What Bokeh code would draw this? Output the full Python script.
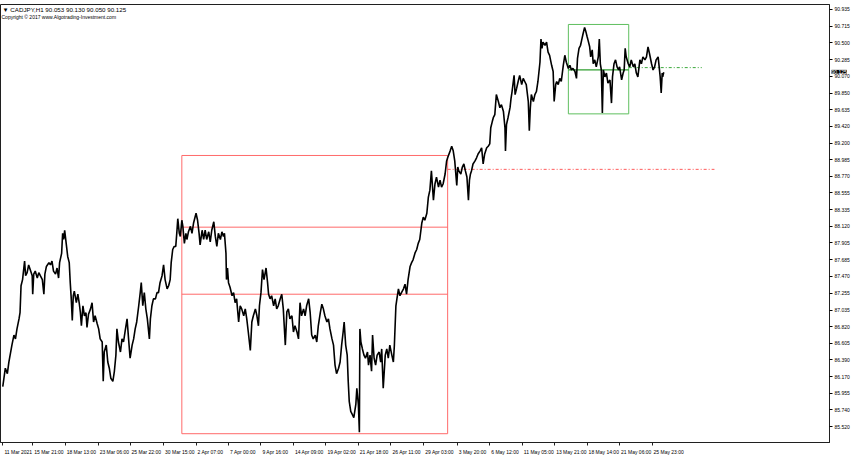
from bokeh.plotting import figure
from bokeh.models import Range1d, FixedTicker, NumeralTickFormatter, Label
from bokeh.embed import file_html
from bokeh.resources import INLINE

# ---- price path (H1 bar index, price) ----
bar_index = [
    0, 5, 9, 12, 18, 22, 25, 28, 32, 34, 36, 39, 43, 45, 48, 51, 55, 58, 59, 61,
    64, 68, 71, 74, 78, 81, 83, 86, 91, 94, 97, 100, 104, 107, 110, 112, 116, 118, 120, 122,
    125, 128, 131, 133, 135, 137, 139, 141, 145, 148, 151, 153, 155, 158, 161, 164, 166, 169, 173, 176,
    179, 182, 186, 189, 192, 196, 198, 200, 204, 207, 210, 213, 217, 220, 223, 225, 228, 232, 235, 238,
    241, 245, 248, 251, 255, 258, 261, 264, 268, 271, 273, 276, 279, 282, 285, 289, 291, 294, 297, 301,
    304, 307, 310, 314, 317, 320, 324, 327, 330, 332, 335, 338, 341, 343, 345, 348, 350, 353, 355, 358,
    361, 363, 366, 370, 373, 376, 381, 384, 387, 389, 393, 396,
    399, 402, 406, 409, 412, 416, 419, 422, 425, 429, 432, 435, 437, 440, 441, 443, 445, 448, 452, 455,
    458, 461, 465, 468, 471, 475, 478, 481, 484, 488, 491, 494, 498, 501, 504, 506, 509, 512, 515, 519,
    522, 524, 527, 530, 534, 537, 540, 543, 547, 550, 553, 557, 560, 563, 566, 570, 573, 576, 580, 583,
    586, 589, 593, 596, 599, 603, 606, 609, 612, 616, 619, 622, 626, 629, 632, 635, 639, 642, 645, 649,
    652, 655, 658, 662, 665, 668, 671, 673, 676, 679, 681, 683, 686, 689, 692, 696, 698, 701, 703, 704,
    706, 709, 712, 715, 719, 721, 724, 727, 729, 732, 735, 738, 742, 745, 747, 750, 754, 757, 760, 763,
    767, 770, 772, 775, 777, 780, 783, 786, 790, 793, 796, 799, 803, 806, 809, 813, 816, 819, 822,
    826, 829, 832, 836, 839, 842, 845, 849, 852, 855, 859, 862, 865, 868, 872, 875, 877, 882, 885, 888,
    891, 895, 897, 899, 903, 906, 909, 912, 915, 918, 920, 922, 924, 927, 931, 934, 937, 941, 944, 947,
    950, 954, 957, 960, 962, 965, 967, 970, 973, 977, 980, 983, 987, 990, 991, 993, 996, 1000, 1002, 1004,
    1008, 1010, 1013, 1016, 1019, 1023, 1026, 1029, 1032, 1036, 1038, 1040, 1042, 1046, 1049, 1052, 1055, 1059, 1061, 1063,
    1065, 1069, 1072, 1075, 1078, 1082, 1085, 1087, 1090, 1092, 1095, 1098, 1101, 1105, 1108, 1111, 1115, 1118, 1121, 1124,
    1128, 1131, 1133, 1136, 1139,
    1141, 1144, 1147, 1149, 1152, 1154, 1157, 1159, 1162, 1164, 1167, 1170, 1174, 1176, 1178, 1180, 1182, 1184, 1187, 1190,
    1193, 1197, 1200, 1202, 1205, 1208, 1211, 1214, 1216, 1220, 1223, 1225, 1227, 1229, 1233, 1236, 1239, 1243, 1246, 1249,
    1252, 1256, 1259, 1262, 1266, 1269, 1272, 1275, 1279, 1282, 1285, 1288, 1292, 1294, 1296, 1298, 1300, 1301, 1303,
]
price = [
    86.04, 86.28, 86.21, 86.36, 86.58, 86.71, 86.66, 86.79, 86.92, 87.00, 87.35, 87.43, 87.67, 87.48, 87.52, 87.62, 87.54, 87.48, 87.24, 87.50,
    87.54, 87.45, 87.52, 87.48, 87.43, 87.24, 87.50, 87.60, 87.65, 87.62, 87.67, 87.54, 87.50, 87.58, 87.45, 87.65, 87.77, 88.03, 87.95, 88.07,
    87.90, 87.73, 87.65, 87.39, 87.18, 86.90, 87.22, 87.28, 87.13, 87.24, 87.11, 87.00, 86.83, 87.09, 86.96, 87.00, 86.81, 86.98, 87.05, 87.13,
    86.88, 86.96, 86.86, 86.79, 86.66, 86.62, 86.11, 86.49, 86.58, 86.36, 86.28, 86.15, 86.11, 86.24, 86.45, 86.79, 86.62, 86.49, 86.66, 86.62,
    86.75, 86.92, 86.66, 86.41, 86.58, 86.66, 86.79, 86.88, 87.09, 87.26, 87.39, 87.09, 87.26, 87.05, 86.92, 86.66, 86.92, 87.09, 87.18, 87.18,
    87.26, 87.26, 87.39, 87.48, 87.62, 87.43, 87.31, 87.35, 87.43, 87.65, 87.82, 87.86, 87.86, 88.03, 88.22, 88.03, 87.99, 88.20, 88.12, 87.90,
    88.03, 87.95, 88.05, 88.12, 88.03, 88.16, 88.29, 88.20, 88.03, 87.88, 88.07, 87.95,
    88.07, 87.95, 88.05, 87.92, 88.07, 88.18, 87.99, 87.86, 88.03, 87.95, 88.05, 87.99, 88.03, 87.77, 87.43, 87.58, 87.39, 87.33, 87.22, 87.26,
    87.13, 87.18, 86.88, 87.09, 87.05, 86.96, 87.05, 86.92, 86.75, 86.51, 86.88, 86.96, 87.05, 86.96, 86.83, 87.09, 87.26, 87.56, 87.43, 87.58,
    87.39, 87.24, 87.18, 87.22, 87.09, 87.18, 87.05, 87.09, 87.18, 87.24, 87.05, 86.58, 87.01, 87.05, 86.92, 86.96, 86.75, 86.83, 86.75, 86.66,
    87.13, 86.96, 87.05, 86.96, 87.09, 87.18, 87.00, 86.71, 86.66, 86.71, 86.62, 86.83, 87.00, 87.11, 87.05, 86.96, 86.88, 86.92, 86.79, 86.66,
    86.58, 86.32, 86.21, 86.28, 86.36, 86.58, 86.75, 86.88, 86.58, 86.45, 86.11, 85.85, 85.72, 85.68, 85.64, 85.81, 86.02, 85.81, 85.45, 86.79,
    86.62, 86.53, 86.45, 86.41, 86.49, 86.32, 86.45, 86.24, 86.71, 86.41, 86.32, 86.45, 86.49, 86.36, 86.53, 86.02, 86.45, 86.53, 86.41, 86.58,
    86.45, 86.36, 86.58, 87.09, 87.18, 87.31, 87.22, 87.26, 87.31, 87.37, 87.24, 87.43, 87.60, 87.65, 87.69, 87.78, 87.82, 87.90, 87.95,
    88.16, 88.24, 88.20, 88.29, 88.50, 88.59, 88.84, 88.46, 88.67, 88.76, 88.63, 88.72, 88.63, 88.67, 88.80, 88.97, 89.01, 89.10, 89.16, 89.10,
    88.97, 88.65, 88.89, 88.84, 88.80, 88.89, 88.93, 88.84, 88.76, 88.46, 88.72, 88.80, 88.84, 88.93, 88.97, 89.01, 89.06, 89.10, 89.14, 88.93,
    89.06, 89.14, 89.16, 89.19, 89.40, 89.48, 89.53, 89.57, 89.83, 89.74, 89.66, 89.70, 89.61, 89.40, 89.10, 89.44, 89.53, 89.66, 89.78, 89.87,
    90.08, 89.83, 89.91, 90.00, 90.08, 89.96, 90.04, 90.00, 89.96, 89.74, 89.36, 89.66, 89.83, 89.74, 89.83, 89.87, 90.00, 90.25, 90.55, 90.43,
    90.51, 90.47, 90.51, 90.38, 90.34, 90.21, 90.13, 89.74, 89.96, 90.00, 89.96, 90.04, 90.00, 90.21, 90.34, 90.25, 90.17, 90.21, 90.15, 90.17,
    90.13, 90.04, 90.30, 90.43, 90.47,
    90.53, 90.62, 90.70, 90.66, 90.58, 90.53, 90.45, 90.32, 90.41, 90.23, 90.28, 90.19, 90.32, 90.55, 90.23, 90.15, 89.59, 90.15, 90.06, 90.11,
    89.98, 90.02, 89.72, 90.06, 90.23, 90.28, 90.19, 90.15, 90.19, 90.02, 90.11, 90.15, 90.43, 90.32, 90.23, 90.19, 90.28, 90.19, 90.23, 90.11,
    90.06, 90.28, 90.23, 90.32, 90.28, 90.32, 90.45, 90.36, 90.23, 90.15, 90.19, 90.28, 90.32, 90.19, 90.06, 89.85, 90.11, 90.06, 90.12,
]

# ---- axes ----
time_ticks = [0, 59, 123, 188, 251, 317, 381, 445, 509, 573, 637, 701, 765, 830, 896, 960, 1024, 1088, 1152, 1216, 1280]
time_labels = ["11 Mar 2021", "15 Mar 21:00", "18 Mar 13:00", "23 Mar 06:00", "25 Mar 22:00", "30 Mar 15:00",
               "2 Apr 07:00", "7 Apr 00:00", "9 Apr 16:00", "14 Apr 09:00", "19 Apr 02:00", "21 Apr 18:00",
               "26 Apr 11:00", "29 Apr 03:00", "3 May 20:00", "6 May 12:00", "11 May 05:00", "13 May 21:00",
               "18 May 14:00", "21 May 06:00", "25 May 23:00"]
price_ticks = [90.935, 90.715, 90.500, 90.285, 90.070, 89.850, 89.635, 89.420, 89.200, 88.985, 88.770, 88.555,
               88.335, 88.120, 87.905, 87.685, 87.470, 87.255, 87.035, 86.820, 86.605, 86.390, 86.170, 85.955,
               85.740, 85.520, 85.305]

# ---- drawn objects ----
red_box_bars = [353, 877]
red_box_prices = [85.43, 89.04]
red_levels = [88.11, 87.24]
red_dash_level = 88.86
red_dash_end = 1403
green_box_bars = [1115, 1234]
green_box_prices = [89.58, 90.74]
green_level = 90.15
green_dash_level = 90.18
green_dash_end = 1378

symbol = "CADJPY,H1"
header_ohlc = ["90.053", "90.130", "90.050", "90.125"]
last_price = 90.125
copyright_text = "Copyright © 2017 www.Algotrading-Investment.com"

# ---- layout / style ----
FONT = "Liberation Sans"
AXIS_FS = 5.0
RED = "#ff6a6a"
GREEN = "#5fbf5f"
X0, X1 = -4.5, 1629.8
Y0, Y1 = 85.316, 90.999
FRAME_W = 830
CHAR_EM = {" ": 0.278, ":": 0.278, "M": 0.833, "a": 0.556, "r": 0.333, "A": 0.667, "p": 0.556, "y": 0.5}


def label_center(tick, text):
    # bokeh centres axis labels on ticks; MT4 starts them at the tick
    w_px = sum(CHAR_EM.get(c, 0.556) for c in text) * AXIS_FS
    return round(tick + (w_px / 2 + 1.5) * (X1 - X0) / FRAME_W, 2)


centers = [label_center(t, s) for t, s in zip(time_ticks, time_labels)]

p = figure(width=852, height=457, output_backend="svg", toolbar_location=None,
           x_range=Range1d(X0, X1), y_range=Range1d(Y0, Y1),
           y_axis_location="right", min_border_left=0, min_border_top=0,
           min_border_right=22, min_border_bottom=12)
p.background_fill_color = "white"
p.border_fill_color = "white"
p.outline_line_color = "#202020"
p.outline_line_width = 1
p.xgrid.visible = False
p.ygrid.visible = False

p.yaxis.ticker = FixedTicker(ticks=price_ticks)
p.yaxis.formatter = NumeralTickFormatter(format="0.000")
p.yaxis.major_tick_in = 0
p.yaxis.major_tick_out = 3
p.yaxis.minor_tick_out = 0
p.yaxis.major_label_standoff = 2
p.yaxis.major_label_text_font = FONT
p.yaxis.major_label_text_font_size = f"{AXIS_FS}px"
p.yaxis.major_label_text_color = "#000000"
p.yaxis.axis_line_color = "#202020"

p.xaxis.ticker = FixedTicker(ticks=centers, minor_ticks=time_ticks)
p.xaxis.major_label_overrides = dict(zip(centers, time_labels))
p.xaxis.major_tick_in = 0
p.xaxis.major_tick_out = 0
p.xaxis.minor_tick_in = 0
p.xaxis.minor_tick_out = 3
p.xaxis.minor_tick_line_color = "#202020"
p.xaxis.major_label_standoff = 3
p.xaxis.major_label_text_font = FONT
p.xaxis.major_label_text_font_size = f"{AXIS_FS}px"
p.xaxis.major_label_text_color = "#000000"
p.xaxis.axis_line_color = "#202020"

# boxes and levels
p.quad(left=[red_box_bars[0]], right=[red_box_bars[1]], bottom=[red_box_prices[0]], top=[red_box_prices[1]],
       fill_color=None, line_color=RED, line_width=1)
p.segment(x0=[red_box_bars[0]] * 2, x1=[red_box_bars[1]] * 2, y0=red_levels, y1=red_levels,
          line_color=RED, line_width=1)
p.segment(x0=[red_box_bars[1]], x1=[red_dash_end], y0=[red_dash_level], y1=[red_dash_level],
          line_color="#ff5a5a", line_width=1, line_dash="3 2 1 2")
p.quad(left=[green_box_bars[0]], right=[green_box_bars[1]], bottom=[green_box_prices[0]], top=[green_box_prices[1]],
       fill_color=None, line_color=GREEN, line_width=1)
p.segment(x0=[green_box_bars[0]], x1=[green_box_bars[1]], y0=[green_level], y1=[green_level],
          line_color="#2e9e2e", line_width=1.3)
p.segment(x0=[green_box_bars[1]], x1=[green_dash_end], y0=[green_dash_level], y1=[green_dash_level],
          line_color="#3aa83a", line_width=1, line_dash="3 2 1 2")

# price path
p.line(bar_index, price, line_color="black", line_width=1.6)

# current-price tag on the price scale (side panel so it is not clipped to the frame)
p.add_layout(Label(x=X1, y=last_price, x_offset=2, text=f"{last_price:.3f}", text_baseline="middle",
                   text_align="left", text_color="white", background_fill_color="black",
                   text_font=FONT, text_font_size=f"{AXIS_FS}px"), "above")

# header (inside the chart, top-left)
p.add_layout(Label(x=X0, y=Y1, x_offset=2, y_offset=-1, text="▼ " + symbol + "  " + " ".join(header_ohlc),
                   text_baseline="top", text_font=FONT, text_font_size="6.2px", text_color="black"))
p.add_layout(Label(x=X0, y=Y1, x_offset=1, y_offset=-9, text=copyright_text,
                   text_baseline="top", text_font=FONT, text_font_size="5px", text_color="black"))

open("out.html", "w").write(file_html(p, INLINE))
